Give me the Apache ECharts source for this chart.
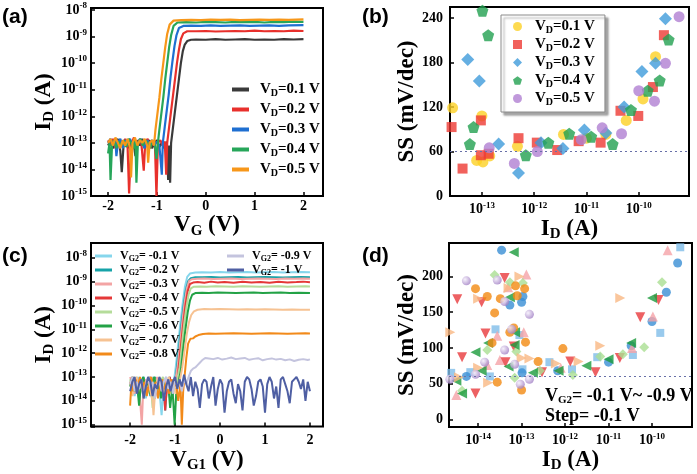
<!DOCTYPE html>
<html><head><meta charset="utf-8">
<script src="https://cdn.jsdelivr.net/npm/echarts@6/dist/echarts.min.js"></script>
<style>html,body{margin:0;padding:0;background:#fff}#c{width:697px;height:474px}</style>
</head><body><div id="c"></div><script>
// ---------- Panel (a): ID-VG, [VG (V), log10 ID]
const a_vd01 = [[-2.0,-13.1],[-1.95,-12.9],[-1.9,-13.2],[-1.85,-13.0],[-1.8,-12.85],[-1.75,-13.3],[-1.72,-14.1],[-1.68,-13.0],[-1.62,-12.9],[-1.57,-13.2],[-1.52,-12.95],[-1.47,-13.1],[-1.44,-13.5],[-1.4,-12.9],[-1.35,-13.1],[-1.3,-12.85],[-1.25,-13.2],[-1.2,-13.0],[-1.15,-12.9],[-1.1,-13.2],[-1.05,-13.0],[-1.0,-12.9],[-0.95,-13.15],[-0.9,-13.0],[-0.85,-13.2],[-0.8,-12.95],[-0.77,-14.4],[-0.75,-13.1],[-0.73,-14.5],[-0.71,-13.0],[-0.67,-12.4],[-0.63,-11.8],[-0.59,-11.2],[-0.55,-10.6],[-0.51,-10.0],[-0.47,-9.55],[-0.43,-9.3],[-0.38,-9.17],[-0.3,-9.12],[-0.2,-9.11],[0,-9.12],[0.2,-9.1],[0.4,-9.12],[0.6,-9.11],[0.8,-9.1],[1.0,-9.12],[1.2,-9.11],[1.4,-9.12],[1.6,-9.1],[1.8,-9.11],[2.0,-9.1]];
const a_vd02 = [[-2.0,-12.9],[-1.95,-13.1],[-1.9,-12.85],[-1.85,-13.2],[-1.8,-13.0],[-1.75,-12.9],[-1.7,-13.1],[-1.65,-12.85],[-1.6,-13.2],[-1.57,-14.9],[-1.55,-14.0],[-1.52,-13.0],[-1.47,-12.8],[-1.42,-13.1],[-1.37,-12.9],[-1.32,-13.0],[-1.27,-14.05],[-1.24,-13.0],[-1.19,-12.85],[-1.14,-13.2],[-1.09,-12.95],[-1.04,-13.1],[-1.01,-15.0],[-0.98,-13.0],[-0.93,-12.9],[-0.88,-13.1],[-0.84,-12.95],[-0.81,-14.2],[-0.79,-13.0],[-0.75,-12.4],[-0.71,-11.8],[-0.67,-11.2],[-0.63,-10.6],[-0.59,-10.0],[-0.55,-9.5],[-0.51,-9.1],[-0.46,-8.88],[-0.38,-8.8],[-0.2,-8.8],[0,-8.79],[0.2,-8.81],[0.4,-8.8],[0.6,-8.79],[0.8,-8.8],[1.0,-8.78],[1.2,-8.8],[1.4,-8.79],[1.6,-8.8],[1.8,-8.78],[2.0,-8.79]];
const a_vd03 = [[-2.0,-13.0],[-1.95,-12.85],[-1.9,-13.1],[-1.85,-12.9],[-1.83,-13.5],[-1.8,-13.0],[-1.75,-12.85],[-1.7,-13.2],[-1.65,-12.9],[-1.6,-13.0],[-1.55,-12.85],[-1.5,-13.15],[-1.45,-12.9],[-1.4,-13.1],[-1.35,-12.85],[-1.3,-13.0],[-1.25,-13.2],[-1.2,-12.9],[-1.15,-13.05],[-1.1,-12.9],[-1.05,-13.1],[-1.0,-12.95],[-0.95,-13.1],[-0.9,-14.2],[-0.88,-13.0],[-0.84,-12.4],[-0.8,-11.8],[-0.76,-11.2],[-0.72,-10.5],[-0.68,-9.9],[-0.64,-9.35],[-0.6,-8.95],[-0.55,-8.68],[-0.46,-8.6],[-0.3,-8.59],[-0.1,-8.6],[0.1,-8.58],[0.3,-8.6],[0.5,-8.59],[0.7,-8.58],[0.9,-8.6],[1.1,-8.59],[1.3,-8.58],[1.5,-8.6],[1.7,-8.58],[2.0,-8.57]];
const a_vd04 = [[-2.0,-13.4],[-1.97,-13.0],[-1.95,-14.4],[-1.92,-13.1],[-1.88,-12.9],[-1.83,-13.2],[-1.78,-12.95],[-1.73,-13.1],[-1.68,-12.9],[-1.63,-13.15],[-1.58,-12.85],[-1.53,-13.0],[-1.48,-13.2],[-1.44,-12.9],[-1.42,-14.5],[-1.39,-13.0],[-1.34,-12.85],[-1.29,-13.1],[-1.24,-12.9],[-1.19,-13.0],[-1.14,-13.2],[-1.09,-12.9],[-1.04,-13.1],[-1.01,-13.6],[-0.98,-13.0],[-0.95,-12.5],[-0.91,-11.9],[-0.87,-11.3],[-0.83,-10.6],[-0.79,-10.0],[-0.75,-9.4],[-0.71,-8.95],[-0.66,-8.6],[-0.58,-8.47],[-0.4,-8.46],[-0.2,-8.47],[0,-8.45],[0.2,-8.46],[0.4,-8.47],[0.6,-8.45],[0.8,-8.46],[1.0,-8.45],[1.2,-8.47],[1.4,-8.45],[1.6,-8.46],[1.8,-8.44],[2.0,-8.45]];
const a_vd05 = [[-2.0,-13.0],[-1.95,-12.85],[-1.9,-13.1],[-1.85,-12.8],[-1.8,-13.0],[-1.75,-13.2],[-1.7,-12.9],[-1.65,-13.1],[-1.6,-12.85],[-1.55,-13.2],[-1.53,-14.3],[-1.5,-13.0],[-1.45,-12.8],[-1.4,-13.1],[-1.35,-12.9],[-1.3,-13.0],[-1.25,-12.85],[-1.2,-13.1],[-1.18,-13.75],[-1.15,-13.0],[-1.1,-12.9],[-1.06,-13.1],[-1.03,-12.5],[-0.99,-11.9],[-0.95,-11.3],[-0.91,-10.6],[-0.87,-10.0],[-0.83,-9.4],[-0.79,-8.9],[-0.74,-8.55],[-0.66,-8.4],[-0.5,-8.38],[-0.3,-8.37],[-0.1,-8.38],[0.1,-8.36],[0.3,-8.37],[0.5,-8.36],[0.7,-8.38],[0.9,-8.37],[1.1,-8.36],[1.3,-8.37],[1.5,-8.36],[1.7,-8.37],[2.0,-8.35]];
const a_labels = ['0.1','0.2','0.3','0.4','0.5'];

// ---------- Panel (b): SS vs ID (log10 ID, SS mV/dec)
const b_logI_01 = [-13.56,-13.0,-13.10,-12.98,-12.85,-12.32,-11.44,-11.0,-10.63,-10.24,-9.92,-9.68];
const b_ss_01   = [119,108,48,46,54,67,83,78,83,102,131,188];
const b_logI_02 = [-13.58,-13.37,-13.02,-13.02,-12.87,-12.30,-11.95,-11.56,-11.15,-10.73,-10.35,-10.01,-9.73,-9.52];
const b_ss_02   = [93,37,102,55,57,78,72,62,74,72,115,108,147,217];
const b_logI_03 = [-13.27,-13.05,-12.68,-12.30,-11.87,-11.45,-11.04,-10.63,-10.28,-9.94,-9.68,-9.49];
const b_ss_03   = [184,155,70,31,72,64,89,85,120,168,179,239];
const b_logI_04 = [-13.23,-13.16,-12.99,-12.88,-12.16,-11.73,-11.33,-10.91,-10.50,-10.15,-9.83,-9.60,-9.43];
const b_ss_04   = [70,93,250,217,55,72,84,80,70,116,142,156,211];
const b_logI_05 = [-12.86,-12.38,-11.94,-11.10,-10.70,-10.33,-10.0,-9.70,-9.49,-9.23];
const b_ss_05   = [65,44,60,76,92,84,142,128,179,242];

// ---------- Panel (c): ID-VG1 at VG2, [VG1 (V), log10 ID]
const c_m01 = [[-2.0,-13.4],[-1.95,-13.1],[-1.9,-13.8],[-1.85,-13.3],[-1.8,-13.0],[-1.75,-13.6],[-1.7,-13.2],[-1.65,-13.9],[-1.6,-13.1],[-1.55,-13.4],[-1.5,-13.0],[-1.45,-13.7],[-1.4,-13.2],[-1.35,-13.5],[-1.3,-14.6],[-1.25,-13.3],[-1.2,-13.0],[-1.15,-13.6],[-1.1,-13.2],[-1.05,-13.8],[-1.02,-13.1],[-0.98,-12.5],[-0.93,-11.6],[-0.88,-10.7],[-0.83,-9.9],[-0.78,-9.2],[-0.73,-8.8],[-0.67,-8.66],[-0.55,-8.62],[-0.4,-8.61],[-0.2,-8.62],[0,-8.6],[0.2,-8.62],[0.4,-8.61],[0.6,-8.6],[0.8,-8.62],[1.0,-8.61],[1.2,-8.6],[1.4,-8.62],[1.6,-8.61],[1.8,-8.6],[2.0,-8.61]];
const c_m02 = [[-2.0,-13.2],[-1.95,-13.6],[-1.9,-13.1],[-1.85,-13.4],[-1.8,-13.9],[-1.75,-13.2],[-1.7,-13.0],[-1.65,-13.5],[-1.6,-13.2],[-1.55,-13.8],[-1.5,-13.3],[-1.45,-13.0],[-1.4,-13.6],[-1.35,-13.2],[-1.3,-13.4],[-1.25,-13.1],[-1.22,-14.4],[-1.18,-13.3],[-1.12,-13.0],[-1.06,-13.5],[-1.0,-13.2],[-0.96,-12.6],[-0.91,-11.7],[-0.86,-10.8],[-0.81,-10.0],[-0.76,-9.35],[-0.71,-8.98],[-0.65,-8.86],[-0.55,-8.82],[-0.4,-8.82],[-0.2,-8.81],[0,-8.83],[0.2,-8.82],[0.4,-8.81],[0.6,-8.83],[0.8,-8.82],[1.0,-8.81],[1.2,-8.82],[1.4,-8.83],[1.6,-8.82],[1.8,-8.81],[2.0,-8.82]];
const c_m03 = [[-2.0,-13.0],[-1.95,-13.3],[-1.9,-13.7],[-1.85,-13.1],[-1.8,-13.4],[-1.77,-14.2],[-1.74,-15.0],[-1.71,-13.6],[-1.66,-13.1],[-1.6,-13.5],[-1.55,-13.2],[-1.5,-13.9],[-1.45,-13.3],[-1.4,-13.0],[-1.35,-13.6],[-1.3,-13.2],[-1.25,-13.5],[-1.2,-13.1],[-1.15,-13.7],[-1.1,-13.2],[-1.05,-13.4],[-0.99,-13.1],[-0.94,-12.5],[-0.89,-11.6],[-0.84,-10.7],[-0.79,-9.9],[-0.74,-9.3],[-0.69,-8.98],[-0.63,-8.9],[-0.5,-8.88],[-0.35,-8.87],[-0.15,-8.89],[0.05,-8.88],[0.25,-8.87],[0.45,-8.89],[0.65,-8.88],[0.85,-8.87],[1.05,-8.88],[1.25,-8.89],[1.45,-8.87],[1.65,-8.88],[1.85,-8.87],[2.0,-8.88]];
const c_m04 = [[-2.0,-13.3],[-1.95,-13.0],[-1.9,-13.5],[-1.85,-13.2],[-1.8,-13.8],[-1.75,-13.3],[-1.7,-13.1],[-1.65,-13.6],[-1.6,-13.2],[-1.55,-13.0],[-1.5,-13.4],[-1.45,-13.9],[-1.4,-13.2],[-1.35,-13.5],[-1.3,-13.1],[-1.25,-13.4],[-1.22,-14.4],[-1.18,-13.3],[-1.12,-13.0],[-1.06,-13.6],[-1.0,-13.2],[-0.96,-13.4],[-0.92,-12.6],[-0.87,-11.7],[-0.82,-10.8],[-0.77,-10.0],[-0.72,-9.4],[-0.67,-9.1],[-0.6,-9.04],[-0.5,-9.02],[-0.35,-9.05],[-0.2,-9.0],[-0.05,-9.04],[0.1,-9.02],[0.3,-9.05],[0.5,-9.01],[0.7,-9.04],[0.9,-9.02],[1.1,-9.05],[1.3,-9.01],[1.5,-9.04],[1.7,-9.02],[1.85,-9.0],[2.0,-9.03]];
const c_m05 = [[-2.0,-13.1],[-1.95,-13.5],[-1.9,-13.2],[-1.85,-13.0],[-1.8,-13.6],[-1.75,-13.3],[-1.7,-13.9],[-1.65,-13.2],[-1.6,-13.4],[-1.55,-13.0],[-1.5,-14.3],[-1.47,-13.5],[-1.42,-13.1],[-1.37,-13.6],[-1.32,-13.2],[-1.27,-13.0],[-1.22,-13.5],[-1.17,-13.2],[-1.12,-13.7],[-1.07,-13.1],[-1.02,-13.4],[-0.96,-13.2],[-0.9,-12.6],[-0.85,-11.7],[-0.8,-10.8],[-0.75,-10.1],[-0.7,-9.55],[-0.65,-9.28],[-0.58,-9.21],[-0.45,-9.2],[-0.3,-9.21],[-0.1,-9.19],[0.1,-9.2],[0.3,-9.21],[0.5,-9.19],[0.7,-9.2],[0.9,-9.21],[1.1,-9.2],[1.3,-9.19],[1.5,-9.21],[1.7,-9.2],[1.9,-9.19],[2.0,-9.2]];
const c_m06 = [[-2.0,-13.4],[-1.95,-13.0],[-1.9,-13.6],[-1.85,-13.2],[-1.8,-14.2],[-1.76,-13.3],[-1.71,-13.0],[-1.66,-13.5],[-1.61,-13.1],[-1.56,-13.7],[-1.51,-13.2],[-1.46,-13.0],[-1.41,-13.6],[-1.36,-13.3],[-1.31,-13.9],[-1.26,-13.2],[-1.21,-13.5],[-1.16,-13.1],[-1.11,-14.3],[-1.06,-13.4],[-1.01,-15.0],[-0.97,-13.5],[-0.92,-13.2],[-0.87,-12.7],[-0.82,-11.8],[-0.77,-11.0],[-0.72,-10.3],[-0.67,-9.8],[-0.62,-9.55],[-0.55,-9.48],[-0.4,-9.47],[-0.25,-9.48],[-0.05,-9.46],[0.15,-9.47],[0.35,-9.48],[0.55,-9.47],[0.75,-9.46],[0.95,-9.48],[1.15,-9.47],[1.35,-9.46],[1.55,-9.48],[1.75,-9.47],[2.0,-9.48]];
const c_m07 = [[-2.0,-13.2],[-1.95,-13.8],[-1.9,-13.3],[-1.85,-13.0],[-1.8,-13.5],[-1.75,-13.2],[-1.7,-13.9],[-1.65,-13.3],[-1.6,-13.1],[-1.55,-13.6],[-1.5,-14.0],[-1.48,-14.6],[-1.44,-13.5],[-1.39,-13.1],[-1.34,-13.4],[-1.29,-13.2],[-1.24,-13.8],[-1.19,-13.3],[-1.14,-13.0],[-1.09,-13.5],[-1.04,-13.2],[-0.99,-13.7],[-0.94,-13.3],[-0.89,-13.1],[-0.84,-12.6],[-0.79,-11.9],[-0.74,-11.2],[-0.69,-10.7],[-0.64,-10.4],[-0.58,-10.25],[-0.5,-10.18],[-0.35,-10.15],[-0.2,-10.16],[0,-10.15],[0.2,-10.16],[0.4,-10.17],[0.6,-10.16],[0.8,-10.17],[1.0,-10.16],[1.2,-10.17],[1.4,-10.18],[1.6,-10.17],[1.8,-10.18],[2.0,-10.18]];
const c_m08 = [[-2.0,-14.2],[-1.97,-13.2],[-1.93,-13.6],[-1.88,-13.1],[-1.83,-13.4],[-1.78,-13.0],[-1.73,-13.5],[-1.68,-13.2],[-1.63,-13.8],[-1.58,-13.3],[-1.53,-13.0],[-1.48,-13.6],[-1.43,-13.2],[-1.38,-13.9],[-1.33,-13.3],[-1.28,-13.1],[-1.23,-13.5],[-1.18,-13.2],[-1.13,-13.7],[-1.08,-13.1],[-1.03,-13.4],[-0.98,-13.2],[-0.93,-14.0],[-0.88,-13.3],[-0.85,-15.0],[-0.82,-13.6],[-0.79,-13.0],[-0.75,-12.2],[-0.71,-11.6],[-0.66,-11.4],[-0.6,-11.38],[-0.55,-11.3],[-0.48,-11.24],[-0.38,-11.2],[-0.25,-11.18],[-0.1,-11.19],[0.1,-11.18],[0.3,-11.17],[0.5,-11.18],[0.7,-11.19],[0.9,-11.18],[1.1,-11.17],[1.3,-11.18],[1.5,-11.19],[1.7,-11.18],[1.9,-11.17],[2.0,-11.18]];
const c_m09 = [[-2.0,-13.3],[-1.95,-13.0],[-1.9,-13.6],[-1.85,-13.2],[-1.8,-13.5],[-1.75,-13.1],[-1.7,-13.8],[-1.65,-13.3],[-1.6,-13.0],[-1.55,-13.5],[-1.5,-13.2],[-1.45,-13.9],[-1.4,-13.3],[-1.35,-13.1],[-1.3,-13.6],[-1.25,-13.2],[-1.2,-13.0],[-1.15,-13.5],[-1.1,-13.2],[-1.05,-13.7],[-1.0,-13.1],[-0.95,-13.4],[-0.9,-13.2],[-0.85,-13.6],[-0.8,-13.1],[-0.75,-13.3],[-0.7,-13.0],[-0.65,-12.75],[-0.6,-12.65],[-0.55,-12.6],[-0.5,-12.5],[-0.45,-12.4],[-0.4,-12.3],[-0.33,-12.2],[-0.25,-12.22],[-0.15,-12.25],[-0.05,-12.2],[0.05,-12.27],[0.15,-12.23],[0.25,-12.18],[0.35,-12.25],[0.45,-12.22],[0.55,-12.2],[0.65,-12.28],[0.75,-12.24],[0.85,-12.21],[0.95,-12.3],[1.05,-12.25],[1.15,-12.22],[1.25,-12.27],[1.35,-12.24],[1.45,-12.3],[1.55,-12.26],[1.65,-12.33],[1.75,-12.28],[1.85,-12.25],[1.95,-12.29],[2.0,-12.26]];
const c_m10 = [[-2.0,-13.6],[-1.95,-13.2],[-1.9,-13.0],[-1.85,-13.7],[-1.8,-13.3],[-1.75,-13.1],[-1.7,-13.9],[-1.65,-13.4],[-1.6,-13.0],[-1.55,-13.2],[-1.5,-13.8],[-1.45,-13.3],[-1.4,-13.5],[-1.35,-13.0],[-1.3,-13.2],[-1.25,-14.0],[-1.2,-13.4],[-1.15,-13.1],[-1.1,-13.6],[-1.05,-13.2],[-1.0,-13.0],[-0.95,-13.5],[-0.9,-13.1],[-0.85,-13.4],[-0.8,-12.9],[-0.75,-13.3],[-0.7,-13.6],[-0.65,-13.0],[-0.6,-13.8],[-0.55,-13.2],[-0.5,-13.5],[-0.45,-14.3],[-0.4,-13.3],[-0.35,-13.1],[-0.3,-13.2],[-0.25,-13.9],[-0.2,-13.4],[-0.15,-13.0],[-0.1,-14.2],[-0.05,-13.5],[0,-13.1],[0.05,-13.3],[0.1,-14.5],[0.15,-13.6],[0.2,-13.2],[0.25,-13.1],[0.3,-13.7],[0.35,-14.1],[0.4,-13.3],[0.45,-13.6],[0.5,-14.4],[0.55,-13.2],[0.6,-13.0],[0.65,-13.1],[0.7,-13.5],[0.75,-14.2],[0.8,-13.8],[0.85,-13.2],[0.9,-13.1],[0.95,-13.4],[1.0,-14.5],[1.05,-13.3],[1.1,-13.0],[1.15,-13.2],[1.2,-13.9],[1.25,-13.4],[1.3,-14.3],[1.35,-13.1],[1.4,-13.0],[1.45,-13.3],[1.5,-13.6],[1.55,-14.1],[1.6,-13.2],[1.65,-13.1],[1.7,-13.0],[1.75,-13.2],[1.8,-13.5],[1.85,-13.1],[1.9,-14.0],[1.95,-13.2],[2.0,-13.6]];
const c_labels = ['-0.1','-0.2','-0.3','-0.4','-0.5','-0.6','-0.7','-0.8','-0.9','-1'];

// ---------- Panel (d): SS vs ID for VG2 = -0.1 ... -0.9 V, [log10 ID, SS]
const d_m01 = [[-14.62,65],[-14.18,66],[-13.73,60],[-13.60,126],[-13.05,118],[-12.98,70],[-12.36,80],[-11.84,70],[-11.26,87],[-10.44,90],[-9.81,121],[-9.35,241]];
const d_m02 = [[-13.46,237],[-13.27,160],[-13.0,164],[-12.97,172],[-14.27,60],[-12.99,65],[-12.17,68],[-11.0,80],[-10.48,103],[-10.0,137],[-9.67,178],[-9.41,219]];
const d_m03 = [[-14.5,34],[-13.79,76],[-13.56,117],[-13.50,83],[-13.31,185],[-12.95,122],[-12.89,203],[-12.1,72],[-10.46,100],[-9.98,144],[-9.64,237]];
const d_m04 = [[-14.48,168],[-13.92,164],[-13.83,120],[-14.37,87],[-14.06,36],[-13.37,80],[-13.39,198],[-13.18,102],[-12.53,66],[-11.88,81],[-11.30,66],[-10.74,86],[-10.27,143],[-9.85,167]];
const d_m05 = [[-14.37,40],[-13.79,97],[-13.62,202],[-13.27,192],[-12.97,191],[-13.12,95],[-13.16,58],[-12.58,68],[-11.82,62],[-11.19,88],[-10.67,91],[-10.18,101],[-9.77,192]];
const d_m06 = [[-14.5,54],[-14.37,36],[-14.06,94],[-13.92,68],[-13.77,107],[-13.27,171],[-13.18,234],[-13.30,74],[-13.16,104],[-13.15,122],[-12.74,65],[-12.15,68],[-11.51,75],[-11.0,84],[-10.48,107],[-10.0,170]];
const d_m07 = [[-14.64,122],[-14.44,59],[-14.0,169],[-14.0,72],[-13.77,51],[-13.30,184],[-13.05,200],[-13.0,86],[-12.82,85],[-12.21,78],[-11.69,81],[-11.19,103],[-10.73,170]];
const d_m08 = [[-14.06,183],[-13.79,172],[-13.62,149],[-13.68,107],[-13.56,52],[-13.49,169],[-13.14,187],[-13.10,173],[-12.93,183],[-12.91,108],[-13.18,128],[-13.27,122],[-13.0,41],[-12.05,99],[-12.62,81]];
const d_m09 = [[-14.65,56],[-14.27,194],[-14.06,63],[-13.85,80],[-13.56,195],[-13.39,165],[-13.39,97],[-13.23,126],[-13.16,77],[-13.03,49],[-12.82,147],[-12.82,56]];

const SS_REF = 60;

// ---------- helpers
const SERIF = '"Liberation Serif", "Times New Roman", serif';
const SANS = '"Liberation Sans", Arial, sans-serif';
const p10 = e => Math.pow(10, e);
const linLog = arr => arr.map(p => [p[0], p10(p[1])]);
const logLin = arr => arr.map(p => [p10(p[0]), p[1]]);
const zipLog = (xs, ys) => xs.map((x, i) => [p10(x), ys[i]]);

const lbl = {color:'#000', fontFamily:SERIF, fontWeight:'bold', fontSize:14};
const supRich = {b:Object.assign({}, lbl), s:Object.assign({}, lbl, {fontSize:9, padding:[0,0,8,0]})};
const logFmt = v => { const e = Math.log10(v), r = Math.round(e); if (Math.abs(e - r) > 1e-6) return ''; return '{b|10}{s|' + r + '}'; };
const intFmt = v => (Math.abs(v - Math.round(v)) < 1e-9 ? String(Math.round(v)) : '');
const modFmt = m => v => (Math.abs(v % m) < 1e-9 && v >= 0 ? String(v) : '');

const nameRich = (fs, sfs, pad) => ({
  i:{color:'#000', fontFamily:SERIF, fontWeight:'bold', fontSize:fs},
  s:{color:'#000', fontFamily:SERIF, fontWeight:'bold', fontSize:sfs, padding:[pad,0,0,0]}
});
const tick = {show:true, inside:true, length:4, lineStyle:{color:'#000', width:1.5}};

function axis(gi, extra) {
  return Object.assign({
    gridIndex: gi, axisLine:{show:false, onZero:false}, axisTick:tick, splitLine:{show:false},
    nameLocation:'middle', nameTextStyle:{rich:nameRich(23, 15, 11)}
  }, extra);
}

const grids = [
  {left:91, top:8, width:232, height:188},
  {left:450, top:7, width:239, height:189},
  {left:91, top:243, width:232, height:187},
  {left:449, top:243, width:243, height:187}
].map(g => Object.assign(g, {show:true, borderColor:'#000', borderWidth:2, backgroundColor:'transparent'}));

const xAxes = [
  axis(0, {type:'value', min:-2.35, max:2.4, axisLabel:Object.assign({}, lbl, {formatter:intFmt, margin:3}),
    name:'{i|V}{s|G}{i| (V)}', nameGap:13}),
  axis(1, {type:'log', min:p10(-13.61), max:p10(-9.04), axisLabel:{formatter:logFmt, rich:supRich, margin:5},
    name:'{i|I}{s|D}{i| (A)}', nameGap:16}),
  axis(2, {type:'value', min:-2.87, max:2.29, axisLabel:Object.assign({}, lbl, {formatter:intFmt, margin:7}),
    name:'{i|V}{s|G1}{i| (V)}', nameGap:16}),
  axis(3, {type:'log', min:p10(-14.67), max:p10(-9.08), axisLabel:{formatter:logFmt, rich:supRich, margin:5},
    name:'{i|I}{s|D}{i| (A)}', nameGap:15})
];
const yAxes = [
  axis(0, {type:'log', min:1e-15, max:p10(-7.925), axisLabel:{formatter:logFmt, rich:supRich, margin:4},
    name:'{i|I}{s|D}{i| (A)}', nameGap:34}),
  axis(1, {type:'value', min:0, max:255, interval:60, axisLabel:Object.assign({}, lbl, {formatter:modFmt(60), margin:7}),
    name:'SS (mV/dec)', nameGap:30, nameTextStyle:{color:'#000', fontFamily:SERIF, fontWeight:'bold', fontSize:23}}),
  axis(2, {type:'log', min:p10(-15.08), max:p10(-7.38), axisLabel:{formatter:logFmt, rich:supRich, margin:4},
    name:'{i|I}{s|D}{i| (A)}', nameGap:34}),
  axis(3, {type:'value', min:-11, max:247, axisLabel:Object.assign({}, lbl, {formatter:modFmt(50), margin:6}),
    name:'SS (mV/dec)', nameGap:30, nameTextStyle:{color:'#000', fontFamily:SERIF, fontWeight:'bold', fontSize:23}})
];

const series = [];
const aData = [a_vd01, a_vd02, a_vd03, a_vd04, a_vd05];
const aColors = ['#3a3a3a', '#e8302c', '#1f6fd1', '#27a65a', '#f7971a'];
aData.forEach((d, i) => series.push({name:'a' + i, type:'line', xAxisIndex:0, yAxisIndex:0, data:linLog(d),
  showSymbol:false, symbol:'none', color:aColors[i], lineStyle:{width:2.2, color:aColors[i]}, animation:false}));

const pent = 'path://M0,-10L9.51,-3.09L5.88,8.09L-5.88,8.09L-9.51,-3.09Z';
const bX = [b_logI_01, b_logI_02, b_logI_03, b_logI_04, b_logI_05];
const bY = [b_ss_01, b_ss_02, b_ss_03, b_ss_04, b_ss_05];
const bColors = ['#fdd124', '#ee3a33', '#3e9bdb', '#22a050', '#b07fd2'];
const bSym = ['circle', 'rect', 'diamond', pent, 'circle'];
const bSize = [11, 10, 13, 12, 11];
bX.forEach((x, i) => series.push({name:'b' + i, type:'scatter', xAxisIndex:1, yAxisIndex:1, data:zipLog(x, bY[i]),
  symbol:bSym[i], symbolSize:bSize[i], color:bColors[i], itemStyle:{color:bColors[i]}, animation:false,
  markLine: i === 0 ? {silent:true, symbol:'none', label:{show:false}, lineStyle:{type:[2,3], color:'#6870a8', width:1.2}, data:[{yAxis:SS_REF}]} : undefined}));

const cData = [c_m01, c_m02, c_m03, c_m04, c_m05, c_m06, c_m07, c_m08, c_m09, c_m10];
const cColors = ['#86d6ec', '#16a3a8', '#f3a4a4', '#e53838', '#b5dc9a', '#23a246', '#f6c292', '#f28a1a', '#c4c4de', '#4f5fa3'];
cData.forEach((d, i) => series.push({name:'c' + i, type:'line', xAxisIndex:2, yAxisIndex:2, data:linLog(d),
  showSymbol:false, symbol:'none', color:cColors[i], lineStyle:{width:2, color:cColors[i]}, animation:false, z: i === 9 ? 3 : 2}));

const dData = [d_m01, d_m02, d_m03, d_m04, d_m05, d_m06, d_m07, d_m08, d_m09];
const dColors = ['#80bde9', '#3a8fd4', '#f5a3a8', '#e83a3c', '#aadf92', '#1b9b3c', '#f9b883', '#f28a12',
  {type:'radial', x:0.35, y:0.35, r:0.7, colorStops:[{offset:0, color:'#f4eefa'}, {offset:1, color:'#a07ec4'}]}];
const dSym = ['rect', 'circle', 'triangle', 'triangle', 'diamond', 'triangle', 'triangle', 'circle', 'circle'];
const dRot = [0, 0, 0, 180, 0, 90, -90, 0, 0];
const dSize = [8, 9, 10, 10, 10, 10, 10, 9, 9];
dData.forEach((d, i) => series.push({name:'d' + i, type:'scatter', xAxisIndex:3, yAxisIndex:3, data:logLin(d),
  symbol:dSym[i], symbolRotate:dRot[i], symbolSize:dSize[i], itemStyle:{color:dColors[i]}, animation:false,
  markLine: i === 0 ? {silent:true, symbol:'none', label:{show:false}, lineStyle:{type:[2,3], color:'#6870a8', width:1.2}, data:[{yAxis:SS_REF}]} : undefined}));

const legRich = (fs, sfs, pad) => ({
  v:{color:'#000', fontFamily:SERIF, fontWeight:'bold', fontSize:fs},
  d:{color:'#000', fontFamily:SERIF, fontWeight:'bold', fontSize:sfs, padding:[pad,0,0,0]}
});
const aNames = {}; a_labels.forEach((l, i) => aNames['a' + i] = '{v|V}{d|D}{v|=' + l + ' V}');
const bNames = {}; a_labels.forEach((l, i) => bNames['b' + i] = '{v|V}{d|D}{v|=' + l + ' V}');
const cNames = {}; c_labels.forEach((l, i) => cNames['c' + i] = '{v|V}{d|G2}{v|= ' + l + ' V}');

const legends = [
  {data:['a0','a1','a2','a3','a4'], orient:'vertical', left:227, top:77, itemWidth:17, itemHeight:4, icon:'rect',
   itemGap:4, formatter:n => aNames[n], textStyle:{rich:legRich(15, 10, 7), padding:[0,0,0,6]}},
  {data:['b0','b1','b2','b3','b4'], orient:'vertical', left:501, top:15, itemWidth:9, itemHeight:9,
   itemGap:2, padding:[4,10,5,12], backgroundColor:'#fff', borderColor:'#8a8a8a', borderWidth:1,
   shadowColor:'rgba(0,0,0,0.35)', shadowBlur:2, shadowOffsetX:3, shadowOffsetY:3,
   formatter:n => bNames[n], textStyle:{rich:legRich(15, 10, 7), padding:[0,0,0,8]}},
  {data:['c0','c1','c2','c3','c4','c5','c6','c7'], orient:'vertical', left:90, top:245, itemWidth:17, itemHeight:3, icon:'rect',
   itemGap:1, formatter:n => cNames[n], textStyle:{rich:legRich(12, 8, 6), padding:[0,0,0,3]}},
  {data:['c8','c9'], orient:'vertical', left:222, top:245, itemWidth:17, itemHeight:3, icon:'rect',
   itemGap:1, formatter:n => cNames[n], textStyle:{rich:legRich(12, 8, 6), padding:[0,0,0,3]}}
];

const panelFont = 'bold 21px ' + SANS;
const graphic = [
  {type:'text', left:2, top:7, style:{text:'(a)', font:panelFont, fill:'#000'}},
  {type:'text', left:362, top:7, style:{text:'(b)', font:panelFont, fill:'#000'}},
  {type:'text', left:2, top:246, style:{text:'(c)', font:panelFont, fill:'#000'}},
  {type:'text', left:362, top:246, style:{text:'(d)', font:panelFont, fill:'#000'}},
  {type:'text', left:545, top:387, style:{text:'{v|V}{d|G2}{v|= -0.1 V~ -0.9 V}', rich:legRich(18, 11, 8)}},
  {type:'text', left:545, top:407, style:{text:'Step= -0.1 V', font:'bold 18px ' + SERIF, fill:'#000'}}
];

const chart = echarts.init(document.getElementById('c'), null, {renderer:'canvas'});
chart.setOption({
  animation:false, backgroundColor:'#fff',
  grid:grids, xAxis:xAxes, yAxis:yAxes, series:series, legend:legends, graphic:graphic
});
</script></body></html>
